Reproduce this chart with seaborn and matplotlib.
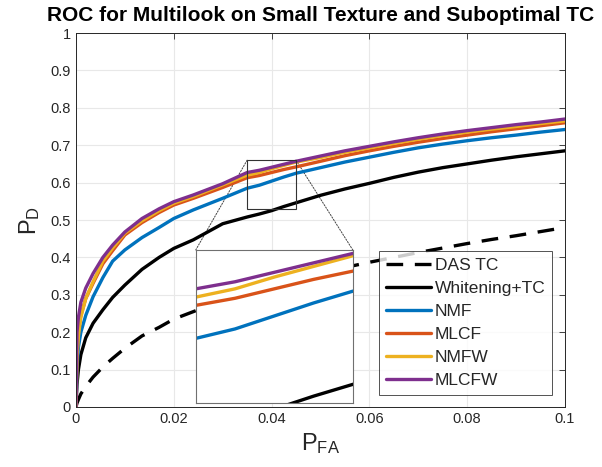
import numpy as np
import pandas as pd
import matplotlib
matplotlib.use("Agg")
import matplotlib.pyplot as plt
import seaborn as sns
from matplotlib.patches import Rectangle, ConnectionPatch

# ---------------- data ----------------
pfa = [0, 0.0002, 0.0005, 0.001, 0.002, 0.0035, 0.0055, 0.0075, 0.01, 0.0135,
       0.017, 0.02, 0.024, 0.03, 0.035, 0.0375, 0.04, 0.0425, 0.045, 0.05, 0.055,
       0.06, 0.065, 0.07, 0.075, 0.08, 0.085, 0.09, 0.095, 0.1]

das_tc = [0, 0.01, 0.02, 0.035, 0.055, 0.08, 0.107, 0.13, 0.157, 0.19, 0.213,
          0.235, 0.255, 0.285, 0.31, 0.32, 0.33, 0.338, 0.345, 0.36, 0.373,
          0.387, 0.40, 0.413, 0.425, 0.437, 0.448, 0.458, 0.469, 0.48]
whitening_tc = [0, 0.06, 0.10, 0.14, 0.185, 0.224, 0.26, 0.293, 0.326, 0.368,
                0.40, 0.424, 0.447, 0.49, 0.508, 0.516, 0.525, 0.536, 0.546,
                0.566, 0.583, 0.598, 0.614, 0.628, 0.64, 0.65, 0.66, 0.669,
                0.677, 0.685]
nmf = [0, 0.10, 0.16, 0.20, 0.245, 0.295, 0.346, 0.39, 0.42, 0.453, 0.48,
       0.504, 0.527, 0.558, 0.585, 0.593, 0.604, 0.615, 0.625, 0.64, 0.655,
       0.668, 0.681, 0.693, 0.703, 0.712, 0.72, 0.727, 0.735, 0.742]
mlcf = [0, 0.15, 0.205, 0.245, 0.29, 0.331, 0.383, 0.418, 0.46, 0.493, 0.52,
        0.54, 0.558, 0.587, 0.613, 0.619, 0.627, 0.635, 0.642, 0.657, 0.672,
        0.685, 0.697, 0.708, 0.718, 0.727, 0.736, 0.744, 0.752, 0.76]
nmfw = [0, 0.13, 0.19, 0.24, 0.29, 0.335, 0.39, 0.425, 0.465, 0.498, 0.525,
        0.545, 0.563, 0.594, 0.62, 0.627, 0.637, 0.646, 0.655, 0.667, 0.681,
        0.693, 0.705, 0.716, 0.726, 0.735, 0.743, 0.75, 0.758, 0.765]
mlcfw = [0, 0.2, 0.24, 0.28, 0.318, 0.357, 0.40, 0.433, 0.468, 0.504, 0.53,
         0.549, 0.567, 0.597, 0.627, 0.633, 0.641, 0.649, 0.657, 0.671, 0.685,
         0.697, 0.709, 0.72, 0.73, 0.739, 0.747, 0.755, 0.762, 0.77]

labels = ["DAS TC", "Whitening+TC", "NMF", "MLCF", "NMFW", "MLCFW"]
series = [das_tc, whitening_tc, nmf, mlcf, nmfw, mlcfw]
colors = ["#000000", "#000000", "#0072BD", "#D95319", "#EDB120", "#7E2F8E"]
styles = [(0, (5, 3.5)), "-", "-", "-", "-", "-"]

xticks = [0, 0.02, 0.04, 0.06, 0.08, 0.1]
xticklabels = ["0", "0.02", "0.04", "0.06", "0.08", "0.1"]
yticks = [0, 0.1, 0.2, 0.3, 0.4, 0.5, 0.6, 0.7, 0.8, 0.9, 1.0]
yticklabels = ["0", "0.1", "0.2", "0.3", "0.4", "0.5", "0.6", "0.7", "0.8", "0.9", "1"]

zoom_x = (0.035, 0.045)
zoom_y = (0.53, 0.66)

# ---------------- style ----------------
sns.set_theme(style="white")
plt.rcParams["font.family"] = ["Liberation Sans", "DejaVu Sans"]
plt.rcParams["mathtext.default"] = "regular"

fig = plt.figure(figsize=(6.02, 4.67), dpi=100)
ax = fig.add_axes([0.1262, 0.1285, 0.8123, 0.8008])

lw = 2.4
for lab, ys, c, ls in zip(labels, series, colors, styles):
    sns.lineplot(x=pfa, y=ys, ax=ax, color=c, linewidth=lw, linestyle=ls,
                 label=lab, sort=True, estimator=None)

ax.set_xlim(0, 0.1)
ax.set_ylim(0, 1)
ax.set_xticks(xticks)
ax.set_xticklabels(xticklabels)
ax.set_yticks(yticks)
ax.set_yticklabels(yticklabels)
ax.grid(True, color="#e8e8e8", linewidth=0.8)
ax.tick_params(direction="in", length=4, width=0.6, colors="#262626",
               labelsize=10.5, top=True, right=True, labelcolor="#262626")
for s in ax.spines.values():
    s.set_color("#262626")
    s.set_linewidth(0.7)

ax.set_title("ROC for Multilook on Small Texture and Suboptimal TC",
             fontsize=15, fontweight="bold", pad=9, color="black")
ax.set_xlabel(r"$P_{FA}$", fontsize=17, color="#262626", labelpad=4)
ax.set_ylabel(r"$P_{D}$", fontsize=17, color="#262626", labelpad=6)

leg = ax.legend(loc="lower left", bbox_to_anchor=(0.62, 0.032, 0.353, 0.377),
                mode="expand", fontsize=12.5, handlelength=2.6, handletextpad=0.2,
                labelspacing=0.45, borderpad=0.4, borderaxespad=0,
                frameon=True, fancybox=False, edgecolor="#262626")
leg.get_frame().set_linewidth(0.7)
for t in leg.get_texts():
    t.set_color("#262626")

# zoom rectangle
rect = Rectangle((zoom_x[0], zoom_y[0]), zoom_x[1] - zoom_x[0], zoom_y[1] - zoom_y[0],
                 fill=False, edgecolor="#333333", linewidth=0.8, zorder=5)
ax.add_patch(rect)

# inset axes (in data coordinates of main axes)
ins_x0, ins_x1 = 0.0245, 0.0566
ins_y0, ins_y1 = 0.01, 0.42
axin = ax.inset_axes([ins_x0, ins_y0, ins_x1 - ins_x0, ins_y1 - ins_y0],
                     transform=ax.transData)
axin.set_facecolor("white")
for lab, ys, c, ls in zip(labels, series, colors, styles):
    sns.lineplot(x=pfa, y=ys, ax=axin, color=c, linewidth=lw, linestyle=ls,
                 sort=True, estimator=None, legend=False)
axin.set_xlim(*zoom_x)
axin.set_ylim(*zoom_y)
axin.set_xticks([])
axin.set_yticks([])
axin.set_xlabel("")
axin.set_ylabel("")
for s in axin.spines.values():
    s.set_color("#707070")
    s.set_linewidth(0.8)

for (xa, ya, xb, yb) in [(zoom_x[0], zoom_y[1], ins_x0, ins_y1),
                         (zoom_x[1], zoom_y[1], ins_x1, ins_y1)]:
    con = ConnectionPatch(xyA=(xa, ya), coordsA=ax.transData,
                          xyB=(xb, yb), coordsB=ax.transData,
                          linestyle=(0, (1.5, 1.5)), color="#444444", linewidth=0.7)
    ax.add_artist(con)

fig.savefig("out.png", dpi=100)
